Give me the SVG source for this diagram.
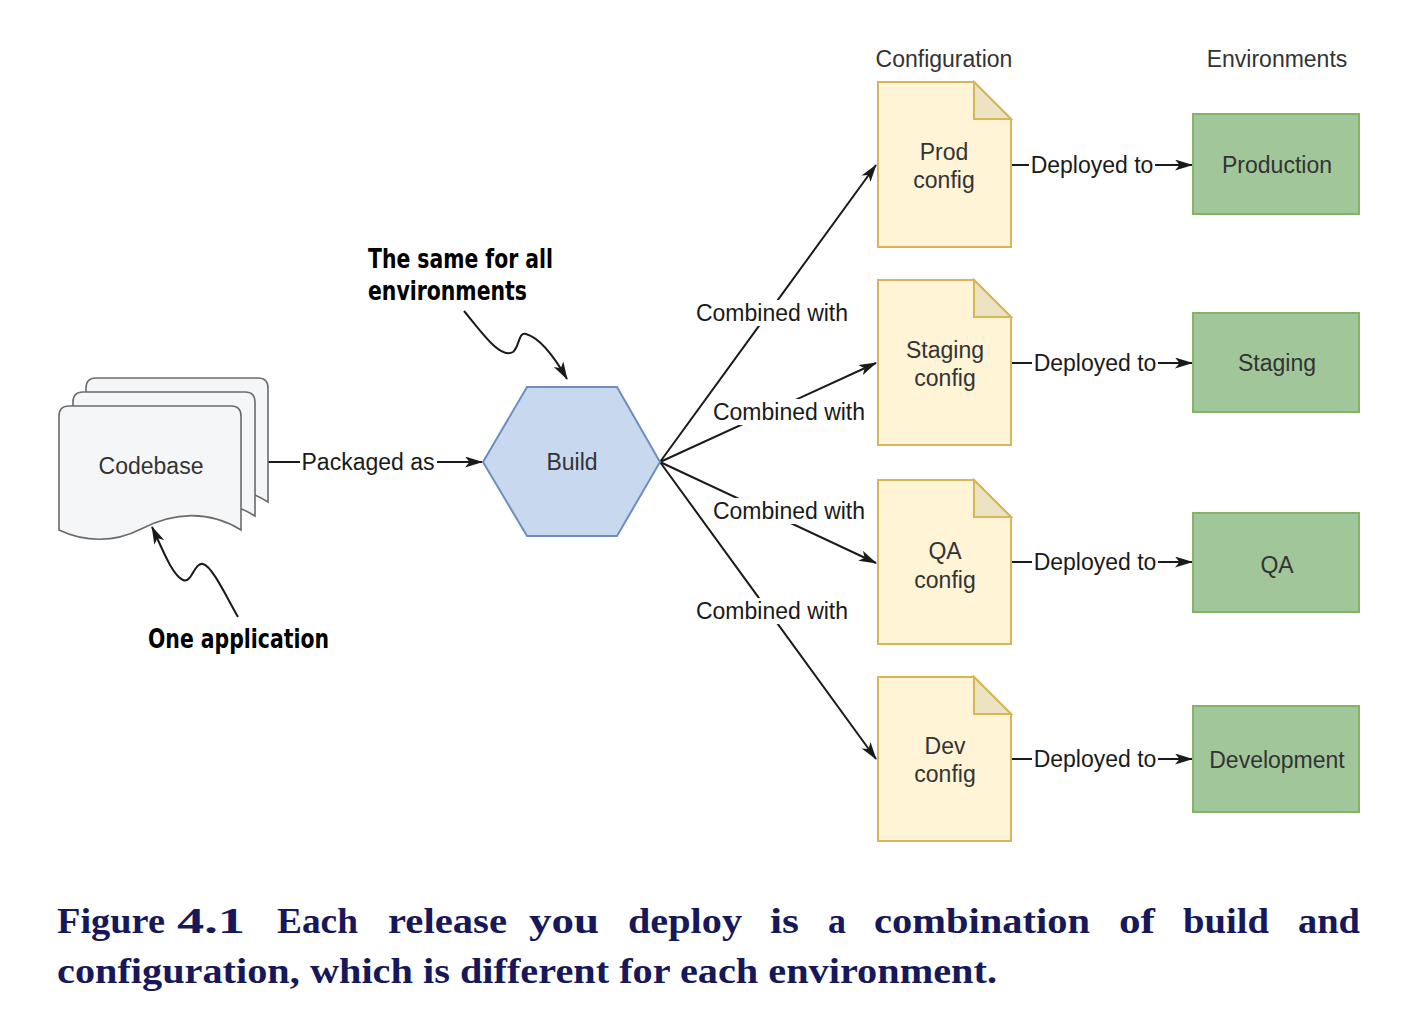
<svg xmlns="http://www.w3.org/2000/svg" width="1416" height="1022" viewBox="0 0 1416 1022">
<style>
.lbl{font-family:"Liberation Sans",Arial,sans-serif;font-size:23px;fill:#1a1a1a;text-anchor:middle}
.ntx{font-family:"Liberation Sans",Arial,sans-serif;font-size:23px;fill:#333;text-anchor:middle}
.ann{font-family:"Liberation Sans Narrow","DejaVu Sans Condensed","DejaVu Sans",sans-serif;font-stretch:condensed;font-weight:bold;font-size:26px;fill:#000}
.cap{font-family:"Liberation Serif","Times New Roman",serif;font-weight:bold;font-size:36px;fill:#17185a}
.edge{fill:none;stroke:#1a1a1a;stroke-width:2}
.page{fill:#f5f6f8;stroke:#6b6b6b;stroke-width:1.6}
.note{fill:#fff4d5;stroke:#d6b656;stroke-width:2}
.fold{fill:#ece3c3;stroke:#d6b656;stroke-width:2;stroke-linejoin:miter}
.env{fill:#a1c69a;stroke:#82b366;stroke-width:2}
.bg{fill:#fff}
</style>
<defs>
<marker id="arr" viewBox="0 0 18 11" refX="17" refY="5.5" markerWidth="18" markerHeight="11" markerUnits="userSpaceOnUse" orient="auto">
<path d="M0,0 L18,5.5 L0,11 L4.5,5.5 Z" fill="#1a1a1a"/>
</marker>
<path id="pg" d="M0,10 Q0,0 10,0 L172,0 Q182,0 182,10 L182,124 C150,104 115,106 82,123 C55,137 25,136 0,124 Z"/>
</defs>
<rect width="1416" height="1022" fill="#fff"/>

<g id="connectors">
<line class="edge" x1="268" y1="462" x2="482" y2="462" marker-end="url(#arr)"/>
<rect class="bg" x="300" y="449" width="137" height="26"/>
<text class="lbl" x="368" y="470">Packaged as</text>

<line class="edge" x1="660" y1="462" x2="876" y2="165" marker-end="url(#arr)"/>
<line class="edge" x1="660" y1="462" x2="876" y2="363" marker-end="url(#arr)"/>
<line class="edge" x1="660" y1="462" x2="876" y2="563" marker-end="url(#arr)"/>
<line class="edge" x1="660" y1="462" x2="876" y2="759" marker-end="url(#arr)"/>
<rect class="bg" x="694" y="300" width="156" height="26"/>
<text class="lbl" x="772" y="321">Combined with</text>
<rect class="bg" x="711" y="399" width="156" height="26"/>
<text class="lbl" x="789" y="420">Combined with</text>
<rect class="bg" x="711" y="498" width="156" height="26"/>
<text class="lbl" x="789" y="519">Combined with</text>
<rect class="bg" x="694" y="598" width="156" height="26"/>
<text class="lbl" x="772" y="619">Combined with</text>

<line class="edge" x1="1011" y1="165" x2="1192" y2="165" marker-end="url(#arr)"/>
<line class="edge" x1="1011" y1="363" x2="1192" y2="363" marker-end="url(#arr)"/>
<line class="edge" x1="1011" y1="562" x2="1192" y2="562" marker-end="url(#arr)"/>
<line class="edge" x1="1011" y1="759" x2="1192" y2="759" marker-end="url(#arr)"/>
<rect class="bg" x="1029" y="152" width="126" height="26"/>
<text class="lbl" x="1092" y="173">Deployed to</text>
<rect class="bg" x="1032" y="350" width="126" height="26"/>
<text class="lbl" x="1095" y="371">Deployed to</text>
<rect class="bg" x="1032" y="549" width="126" height="26"/>
<text class="lbl" x="1095" y="570">Deployed to</text>
<rect class="bg" x="1032" y="746" width="126" height="26"/>
<text class="lbl" x="1095" y="767">Deployed to</text>

<path class="edge" d="M464,311 C480,330 500,360 513,352 C520,346 518,332 526,334 C540,338 555,358 567,379" marker-end="url(#arr)"/>
<path class="edge" d="M238,617 C226,596 212,566 203,564 C194,562 192,584 183,580 C172,575 162,548 152,527" marker-end="url(#arr)"/>
</g>

<g id="codebase">
<use href="#pg" class="page" x="86" y="378"/>
<use href="#pg" class="page" x="73" y="392"/>
<use href="#pg" class="page" x="59" y="406"/>
<text class="ntx" x="151" y="474">Codebase</text>
</g>

<g id="build">
<polygon points="483,462 527,387 617,387 660,462 617,536 527,536" fill="#c8d8ef" stroke="#6c8ebf" stroke-width="2"/>
<text class="ntx" x="572" y="470">Build</text>
</g>

<g id="annotation-same">
<text class="ann" x="368" y="268" textLength="185" lengthAdjust="spacingAndGlyphs">The same for all</text>
<text class="ann" x="368" y="300" textLength="159" lengthAdjust="spacingAndGlyphs">environments</text>
</g>
<g id="annotation-one">
<text class="ann" x="148" y="648" textLength="181" lengthAdjust="spacingAndGlyphs">One application</text>
</g>

<g id="headers">
<text class="ntx" x="944" y="67">Configuration</text>
<text class="ntx" x="1277" y="67">Environments</text>
</g>

<g id="prod-config">
<path class="note" d="M878,82 L974,82 L1011,119 L1011,247 L878,247 Z"/>
<path class="fold" d="M974,82 L974,119 L1011,119 Z"/>
<text class="ntx" x="944" y="160">Prod</text>
<text class="ntx" x="944" y="188">config</text>
</g>
<g id="staging-config">
<path class="note" d="M878,280 L974,280 L1011,317 L1011,445 L878,445 Z"/>
<path class="fold" d="M974,280 L974,317 L1011,317 Z"/>
<text class="ntx" x="945" y="358">Staging</text>
<text class="ntx" x="945" y="386">config</text>
</g>
<g id="qa-config">
<path class="note" d="M878,480 L974,480 L1011,517 L1011,644 L878,644 Z"/>
<path class="fold" d="M974,480 L974,517 L1011,517 Z"/>
<text class="ntx" x="945" y="559">QA</text>
<text class="ntx" x="945" y="588">config</text>
</g>
<g id="dev-config">
<path class="note" d="M878,677 L974,677 L1011,714 L1011,841 L878,841 Z"/>
<path class="fold" d="M974,677 L974,714 L1011,714 Z"/>
<text class="ntx" x="945" y="754">Dev</text>
<text class="ntx" x="945" y="782">config</text>
</g>

<g id="production">
<rect class="env" x="1193" y="114" width="166" height="100"/>
<text class="ntx" x="1277" y="173">Production</text>
</g>
<g id="staging">
<rect class="env" x="1193" y="313" width="166" height="99"/>
<text class="ntx" x="1277" y="371">Staging</text>
</g>
<g id="qa">
<rect class="env" x="1193" y="513" width="166" height="99"/>
<text class="ntx" x="1277" y="573">QA</text>
</g>
<g id="development">
<rect class="env" x="1193" y="706" width="166" height="106"/>
<text class="ntx" x="1277" y="768">Development</text>
</g>

<g id="caption">
<text class="cap" y="933">
<tspan x="57" textLength="108" lengthAdjust="spacingAndGlyphs">Figure</tspan>
<tspan x="177" textLength="68" lengthAdjust="spacingAndGlyphs">4.1</tspan>
<tspan x="277" textLength="81" lengthAdjust="spacingAndGlyphs">Each</tspan>
<tspan x="388" textLength="119" lengthAdjust="spacingAndGlyphs">release</tspan>
<tspan x="529" textLength="70" lengthAdjust="spacingAndGlyphs">you</tspan>
<tspan x="628" textLength="114" lengthAdjust="spacingAndGlyphs">deploy</tspan>
<tspan x="770" textLength="29" lengthAdjust="spacingAndGlyphs">is</tspan>
<tspan x="828" textLength="18" lengthAdjust="spacingAndGlyphs">a</tspan>
<tspan x="874" textLength="216" lengthAdjust="spacingAndGlyphs">combination</tspan>
<tspan x="1119" textLength="36" lengthAdjust="spacingAndGlyphs">of</tspan>
<tspan x="1183" textLength="86" lengthAdjust="spacingAndGlyphs">build</tspan>
<tspan x="1298" textLength="62" lengthAdjust="spacingAndGlyphs">and</tspan>
</text>
<text class="cap" x="57" y="983" textLength="940" lengthAdjust="spacingAndGlyphs">configuration, which is different for each environment.</text>
</g>
</svg>
